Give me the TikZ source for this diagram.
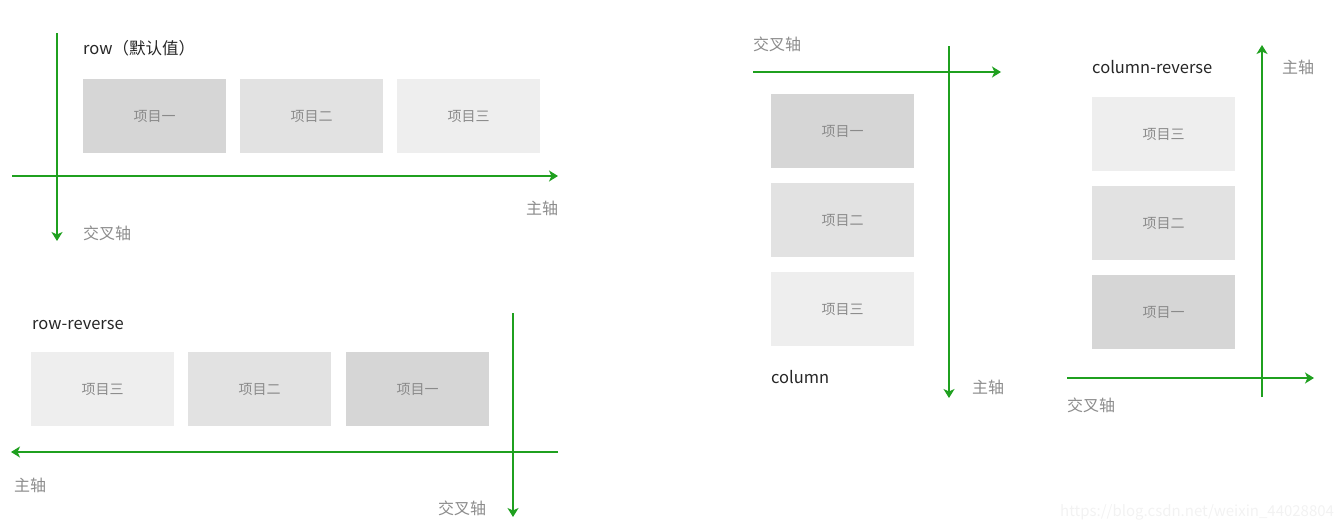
\documentclass[tikz,border=0pt]{standalone}
\usepackage{fontspec}
\newfontfamily\cjk{Noto Sans CJK SC}
\usetikzlibrary{arrows.meta}
\definecolor{axisgreen}{HTML}{1FA01F}
\definecolor{itemA}{HTML}{D6D6D6}
\definecolor{itemB}{HTML}{E2E2E2}
\definecolor{itemC}{HTML}{EEEEEE}
\definecolor{itemtext}{HTML}{8A8A8A}
\definecolor{axistext}{HTML}{8C8C8C}
\tikzset{
  axisline/.style={draw=axisgreen, line width=1.6pt},
  axisarrow/.style={axisline, -{Stealth[length=9pt,width=11pt,inset=2.5pt]}},
  itembox/.style={anchor=north west, minimum width=143pt, minimum height=74pt, inner sep=0pt, text=itemtext, font=\cjk\fontsize{14}{16}\selectfont},
  axislabel/.style={anchor=west, inner sep=0pt, text=axistext, font=\cjk\fontsize{16}{18}\selectfont},
  titlelabel/.style={anchor=west, inner sep=0pt, text=black!85, font=\cjk\fontsize{16.5}{19}\selectfont},
  watermark/.style={anchor=west, inner sep=0pt, text=black!5, font=\cjk\fontsize{15}{18}\selectfont}
}
\begin{document}
\begin{tikzpicture}[x=1pt,y=-1pt]
\useasboundingbox (0,0) rectangle (1340,530);

% ---------- Panel 1: row ----------
\node[titlelabel] (t1) at (83,48) {row（默认值）};
\node[itembox, fill=itemA] (r1a) at (83,79) {项目一};
\node[itembox, fill=itemB] (r1b) at (240,79) {项目二};
\node[itembox, fill=itemC] (r1c) at (397,79) {项目三};
\coordinate (p1hs) at (12,176);
\coordinate (p1he) at (558,176);
\coordinate (p1vs) at (57,33);
\coordinate (p1ve) at (57,241);
\draw[axisarrow] (p1hs) -- (p1he);
\draw[axisarrow] (p1vs) -- (p1ve);
\node[axislabel] (m1) at (526,208) {主轴};
\node[axislabel] (c1) at (83,233) {交叉轴};

% ---------- Panel 2: row-reverse ----------
\node[titlelabel] (t2) at (32,325) {row-reverse};
\node[itembox, fill=itemC] (r2c) at (31,352) {项目三};
\node[itembox, fill=itemB] (r2b) at (188,352) {项目二};
\node[itembox, fill=itemA] (r2a) at (346,352) {项目一};
\coordinate (p2hs) at (558,452);
\coordinate (p2he) at (11,452);
\coordinate (p2vs) at (513,313);
\coordinate (p2ve) at (513,517);
\draw[axisarrow] (p2hs) -- (p2he);
\draw[axisarrow] (p2vs) -- (p2ve);
\node[axislabel] (m2) at (14,485) {主轴};
\node[axislabel] (c2) at (438,508) {交叉轴};

% ---------- Panel 3: column ----------
\node[axislabel] (c3) at (753,44) {交叉轴};
\node[itembox, fill=itemA] (r3a) at (771,94) {项目一};
\node[itembox, fill=itemB] (r3b) at (771,183) {项目二};
\node[itembox, fill=itemC] (r3c) at (771,272) {项目三};
\coordinate (p3hs) at (753,72);
\coordinate (p3he) at (1001,72);
\coordinate (p3vs) at (949,46);
\coordinate (p3ve) at (949,398);
\draw[axisarrow] (p3hs) -- (p3he);
\draw[axisarrow] (p3vs) -- (p3ve);
\node[titlelabel] (t3) at (771,377) {column};
\node[axislabel] (m3) at (972,387) {主轴};

% ---------- Panel 4: column-reverse ----------
\node[titlelabel] (t4) at (1092,67) {column-reverse};
\node[itembox, fill=itemC] (r4c) at (1092,97) {项目三};
\node[itembox, fill=itemB] (r4b) at (1092,186) {项目二};
\node[itembox, fill=itemA] (r4a) at (1092,275) {项目一};
\coordinate (p4vs) at (1262,397);
\coordinate (p4ve) at (1262,45);
\coordinate (p4hs) at (1067,378);
\coordinate (p4he) at (1314,378);
\draw[axisarrow] (p4vs) -- (p4ve);
\draw[axisarrow] (p4hs) -- (p4he);
\node[axislabel] (m4) at (1282,67) {主轴};
\node[axislabel] (c4) at (1067,405) {交叉轴};

% watermark
\node[watermark] (wm) at (1060,512) {https://blog.csdn.net/weixin\_44028804};
\end{tikzpicture}
\end{document}
